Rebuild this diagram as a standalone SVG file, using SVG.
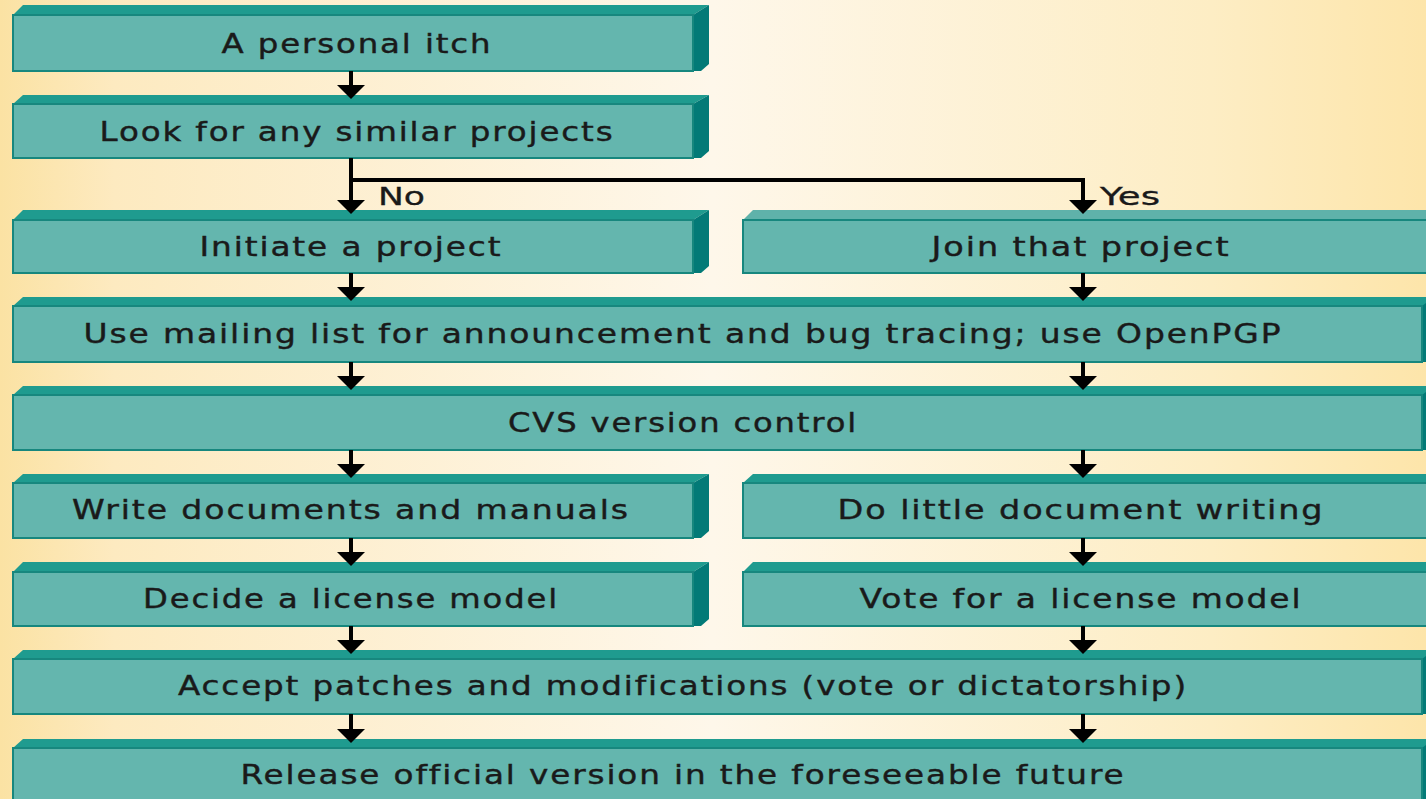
<svg xmlns="http://www.w3.org/2000/svg" width="1426" height="799" viewBox="0 0 1426 799">
<style>
.face{fill:#64b6ae;stroke:#17877e;stroke-width:2}
.bevel{fill:#1f9b8f}
.bevel-lt{fill:#5fb2aa}
.side{fill:#037a77}
.t{font-family:"DejaVu Sans","Liberation Sans",sans-serif;font-size:26px;letter-spacing:1.5px;fill:#1a1a1a;stroke:#1a1a1a;stroke-width:0.4;text-anchor:middle}
.lbl{font-family:"DejaVu Sans","Liberation Sans",sans-serif;font-size:24px;fill:#1a1a1a;stroke:#1a1a1a;stroke-width:0.3}
.ln{stroke:#000;stroke-width:4;fill:none}
.hd{fill:#000}
</style>
<defs>
<linearGradient id="bg" x1="0" y1="0" x2="1" y2="0">
<stop offset="0" stop-color="#fbe2a3"/>
<stop offset="0.08" stop-color="#fdeac0"/>
<stop offset="0.5" stop-color="#fef7ea"/>
<stop offset="0.85" stop-color="#fdedc4"/>
<stop offset="1" stop-color="#fde5aa"/>
</linearGradient>
</defs>
<rect x="0" y="0" width="1426" height="799" fill="url(#bg)"/>

<g id="n1">
<polygon class="bevel" points="13,15 23,5 709,5 693,15"/>
<polygon class="side" points="693,15 709,5 709,64 701,71 693,71"/>
<rect class="face" x="13" y="15" width="680" height="56"/>
<text class="t" x="357" y="53" textLength="271" lengthAdjust="spacingAndGlyphs">A personal itch</text>
</g>
<g id="n2">
<polygon class="bevel" points="13,104 23,95 709,95 693,104"/>
<polygon class="side" points="693,104 709,95 709,151 701,158 693,158"/>
<rect class="face" x="13" y="104" width="680" height="54"/>
<text class="t" x="357" y="141" textLength="515" lengthAdjust="spacingAndGlyphs">Look for any similar projects</text>
</g>
<g id="n3">
<polygon class="bevel" points="13,220 23,210 709,210 693,220"/>
<polygon class="side" points="693,220 709,210 709,266 701,273 693,273"/>
<rect class="face" x="13" y="220" width="680" height="53"/>
<text class="t" x="351" y="256" textLength="303" lengthAdjust="spacingAndGlyphs">Initiate a project</text>
</g>
<g id="n4">
<polygon class="bevel-lt" points="743,220 753,210 1426,210 1426,220"/>
<rect class="face" x="743" y="220" width="690" height="53"/>
<text class="t" x="1081" y="256" textLength="299" lengthAdjust="spacingAndGlyphs">Join that project</text>
</g>
<g id="n5">
<polygon class="bevel" points="13,306 23,297 1426,297 1426,306"/>
<polygon class="side" points="1422,306 1426,303 1426,362 1422,362"/>
<rect class="face" x="13" y="306" width="1409" height="56"/>
<text class="t" x="683" y="343" textLength="1199" lengthAdjust="spacingAndGlyphs">Use mailing list for announcement and bug tracing; use OpenPGP</text>
</g>
<g id="n6">
<polygon class="bevel" points="13,395 23,386 1426,386 1426,395"/>
<polygon class="side" points="1422,395 1426,392 1426,450 1422,450"/>
<rect class="face" x="13" y="395" width="1409" height="55"/>
<text class="t" x="683" y="432" textLength="350" lengthAdjust="spacingAndGlyphs">CVS version control</text>
</g>
<g id="n7">
<polygon class="bevel" points="13,483 23,474 709,474 693,483"/>
<polygon class="side" points="693,483 709,474 709,531 701,538 693,538"/>
<rect class="face" x="13" y="483" width="680" height="55"/>
<text class="t" x="351" y="519" textLength="558" lengthAdjust="spacingAndGlyphs">Write documents and manuals</text>
</g>
<g id="n8">
<polygon class="bevel" points="743,483 753,474 1426,474 1426,483"/>
<rect class="face" x="743" y="483" width="690" height="55"/>
<text class="t" x="1081" y="519" textLength="487" lengthAdjust="spacingAndGlyphs">Do little document writing</text>
</g>
<g id="n9">
<polygon class="bevel" points="13,572 23,562 709,562 693,572"/>
<polygon class="side" points="693,572 709,562 709,619 701,626 693,626"/>
<rect class="face" x="13" y="572" width="680" height="54"/>
<text class="t" x="351" y="608" textLength="416" lengthAdjust="spacingAndGlyphs">Decide a license model</text>
</g>
<g id="n10">
<polygon class="bevel" points="743,572 753,562 1426,562 1426,572"/>
<rect class="face" x="743" y="572" width="690" height="54"/>
<text class="t" x="1081" y="608" textLength="443" lengthAdjust="spacingAndGlyphs">Vote for a license model</text>
</g>
<g id="n11">
<polygon class="bevel" points="13,659 23,650 1426,650 1426,659"/>
<polygon class="side" points="1422,659 1426,656 1426,714 1422,714"/>
<rect class="face" x="13" y="659" width="1409" height="55"/>
<text class="t" x="683" y="695" textLength="1010" lengthAdjust="spacingAndGlyphs">Accept patches and modifications (vote or dictatorship)</text>
</g>
<g id="n12">
<polygon class="bevel" points="13,748 23,739 1426,739 1426,748"/>
<polygon class="side" points="1422,748 1426,745 1426,800 1422,800"/>
<rect class="face" x="13" y="748" width="1409" height="60"/>
<text class="t" x="683" y="784" textLength="885" lengthAdjust="spacingAndGlyphs">Release official version in the foreseeable future</text>
</g>

<g id="connectors">
<path class="ln" d="M351,71 V88"/>
<polygon class="hd" points="337,85 365,85 351,99"/>
<path class="ln" d="M351,158 V202 M351,180 H1083 V202"/>
<polygon class="hd" points="337,200 365,200 351,214"/>
<polygon class="hd" points="1069,200 1097,200 1083,214"/>
<text class="lbl" x="378" y="205" textLength="47" lengthAdjust="spacingAndGlyphs">No</text>
<text class="lbl" x="1100" y="205" textLength="60" lengthAdjust="spacingAndGlyphs">Yes</text>
<path class="ln" d="M351,273 V290 M1083,273 V290"/>
<polygon class="hd" points="337,287 365,287 351,301"/>
<polygon class="hd" points="1069,287 1097,287 1083,301"/>
<path class="ln" d="M351,362 V379 M1083,362 V379"/>
<polygon class="hd" points="337,376 365,376 351,390"/>
<polygon class="hd" points="1069,376 1097,376 1083,390"/>
<path class="ln" d="M351,450 V467 M1083,450 V467"/>
<polygon class="hd" points="337,464 365,464 351,478"/>
<polygon class="hd" points="1069,464 1097,464 1083,478"/>
<path class="ln" d="M351,538 V555 M1083,538 V555"/>
<polygon class="hd" points="337,552 365,552 351,566"/>
<polygon class="hd" points="1069,552 1097,552 1083,566"/>
<path class="ln" d="M351,626 V643 M1083,626 V643"/>
<polygon class="hd" points="337,640 365,640 351,654"/>
<polygon class="hd" points="1069,640 1097,640 1083,654"/>
<path class="ln" d="M351,714 V732 M1083,714 V732"/>
<polygon class="hd" points="337,729 365,729 351,743"/>
<polygon class="hd" points="1069,729 1097,729 1083,743"/>
</g>
</svg>
